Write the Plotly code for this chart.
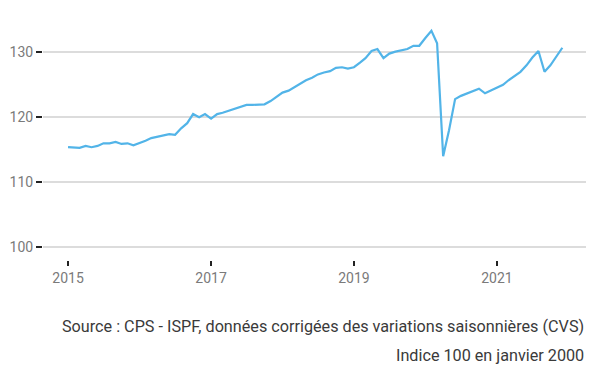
import plotly.graph_objects as go
import pandas as pd

months = pd.date_range("2015-01-01", "2021-12-01", freq="MS").strftime("%Y-%m-%d").tolist()
values = [
    115.4, 115.3, 115.3, 115.6, 115.4, 115.6, 116.0, 116.0, 116.2, 115.9, 116.0, 115.7,
    116.0, 116.4, 116.8, 117.0, 117.3, 117.4, 117.3, 118.3, 119.1, 120.5, 120.0, 120.5,
    119.8, 120.5, 120.7, 121.0, 121.4, 121.7, 121.9, 121.9, 122.0, 122.0, 122.5, 123.2,
    123.8, 124.1, 124.6, 125.1, 125.7, 126.1, 126.6, 126.9, 127.1, 127.6, 127.7, 127.5,
    127.7, 128.4, 129.1, 130.2, 130.5, 129.1, 129.8, 130.1, 130.3, 130.5, 131.0, 131.0,
    132.2, 133.3, 131.4, 114.0, 118.0, 122.8, 123.3, 123.7, 124.1, 124.4, 123.7, 124.1,
    124.6, 125.0, 125.7, 126.4, 127.0, 128.0, 129.2, 130.2, 127.0, 128.0, 129.3, 130.7,
]
y_ticks = [100, 110, 120, 130]
x_ticks = ["2015-01-01", "2017-01-01", "2019-01-01", "2021-01-01"]
x_tick_labels = ["2015", "2017", "2019", "2021"]
notes = [
    "Source : CPS - ISPF, données corrigées des variations saisonnières (CVS)",
    "Indice 100 en janvier 2000",
]

fig = go.Figure()
fig.add_trace(go.Scatter(
    x=months, y=values, mode="lines",
    line=dict(color="#52b4e8", width=2.2),
    hoverinfo="skip", showlegend=False,
))

fig.update_layout(
    width=600, height=372,
    margin=dict(l=43, r=14, t=25, b=112, autoexpand=False),
    paper_bgcolor="white", plot_bgcolor="white",
    font=dict(family="Roboto", size=14, color="#7a7a7a"),
    xaxis=dict(
        range=["2014-08-26", "2022-04-01"],
        tickvals=x_ticks, ticktext=x_tick_labels,
        showgrid=False, zeroline=False, showline=False,
        ticks="outside", ticklen=5, tickwidth=2, tickcolor="#222",
        ticklabelstandoff=0, automargin=False,
        tickfont=dict(size=14, color="#7a7a7a"),
    ),
    yaxis=dict(
        range=[98.05, 134.2],
        tickvals=y_ticks,
        showgrid=True, gridcolor="#dcdcdc", gridwidth=2,
        zeroline=False, showline=False,
        ticks="outside", ticklen=6, tickwidth=2, tickcolor="#222",
        ticklabelstandoff=0, automargin=False,
        tickfont=dict(size=14, color="#7a7a7a"),
    ),
)

ys = [-0.281, -0.406]
for txt, yy in zip(notes, ys):
    fig.add_annotation(
        text=txt, xref="paper", yref="paper", x=1.0, y=yy,
        xanchor="right", yanchor="middle", showarrow=False,
        font=dict(family="Roboto", size=16.2, color="#3a3a3a"),
    )

fig.write_html(
    "out.html",
    config={"displayModeBar": False, "staticPlot": True},
    post_script="document.body.style.margin='0';document.body.style.overflow='hidden';",
)
